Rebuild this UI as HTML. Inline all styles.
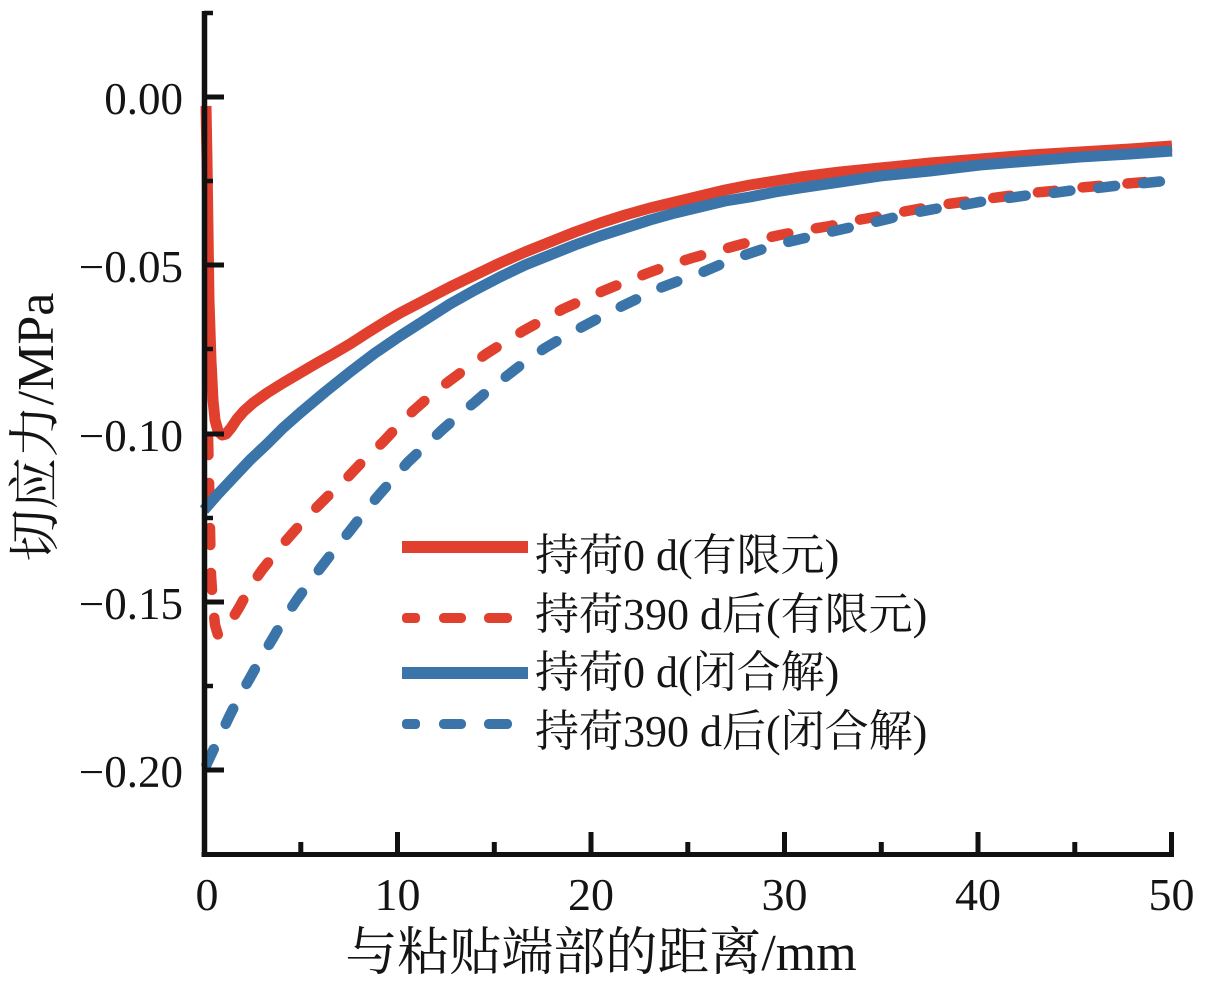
<!DOCTYPE html>
<html>
<head>
<meta charset="utf-8">
<style>
html,body{margin:0;padding:0;background:#fff;}
svg{display:block;}
text{font-family:"Liberation Serif","Noto Serif CJK SC",serif;fill:#141414;}
</style>
</head>
<body>
<svg width="1210" height="992" viewBox="0 0 1210 992" xmlns="http://www.w3.org/2000/svg">
<rect width="1210" height="992" fill="#fff"/>

<!-- series -->
<g fill="none" stroke-linejoin="round">
  <!-- red solid: 0 d FE -->
  <polyline stroke="#E0402D" stroke-width="11" stroke-linecap="butt" points="206,106 207,160 208,230 209,300 211,360 213,400 215,420 218,431 222,435 226,434 231,428 237,419 244,411 253,403 267,393 283,383 300,373 317,363 333,354 350,344 367,333 383,323 400,313 425,300 450,287 475,275 500,263 525,252 550,242 575,232 600,223 625,215 650,208 675,202 700,196 725,190 750,185 775,181 800,177 840,172 880,168 930,163 980,159 1030,155 1080,152 1130,149 1172,146"/>
  <!-- red dashed: 390 d FE -->
  <polyline stroke="#E0402D" stroke-width="10.5" stroke-linecap="round" stroke-dasharray="17 28" stroke-dashoffset="-4" points="208,434 209,480 210,530 211,575 213,605 215,625 218,635 222,634 228,626 234,616 240,606 247,593 255,580 262,570 270,560 283,544 298,527 314,510 330,494 346,479 364,460 383,442 398,426 413,411 430,396 448,382 467,368 486,354 505,342 523,331 543,320 563,309 583,300 603,291 625,282 648,273 670,265 692,258 713,252 735,246 757,240 780,235 805,230 830,226 852,221 875,217 896,213 918,209 940,205 963,202 985,199 1008,196 1030,193 1053,191 1075,188 1098,186 1122,184 1145,182 1162,181"/>
  <!-- blue solid: 0 d closed form -->
  <polyline stroke="#3A74A8" stroke-width="11" stroke-linecap="butt" points="204,510 218,494 233,478 250,460 267,444 283,428 300,413 325,392 350,372 375,353 400,336 425,320 450,304 475,290 500,277 525,265 550,255 575,245 600,236 625,228 650,220 675,213 700,207 725,201 750,197 775,192 800,188 840,182 880,176 930,171 980,165 1030,161 1080,157 1130,154 1172,151"/>
  <!-- blue dashed: 390 d closed form -->
  <polyline stroke="#3A74A8" stroke-width="10.5" stroke-linecap="round" stroke-dasharray="17 28" stroke-dashoffset="-6" points="204,770 211,755 220,736 229,717 239,697 250,678 261,658 273,638 284,619 296,601 309,583 322,566 335,549 349,532 363,514 378,496 393,479 408,462 425,446 442,430 458,416 475,402 491,388 508,375 526,361 545,348 562,338 580,328 599,318 618,308 639,298 660,288 681,280 703,272 724,263 745,255 766,248 788,242 809,237 830,232 852,227 875,222 896,217 918,212 940,208 963,205 985,201 1008,198 1030,195 1053,193 1075,190 1098,188 1122,185 1145,183 1165,181"/>
</g>

<!-- axes -->
<g stroke="#111" fill="none">
  <line x1="204.5" y1="11" x2="204.5" y2="857" stroke-width="5.5"/>
  <line x1="201.5" y1="854.5" x2="1174" y2="854.5" stroke-width="5"/>
  <!-- y major ticks -->
  <g stroke-width="5">
    <line x1="204" y1="97" x2="224" y2="97"/>
    <line x1="204" y1="265" x2="224" y2="265"/>
    <line x1="204" y1="434" x2="224" y2="434"/>
    <line x1="204" y1="602" x2="224" y2="602"/>
    <line x1="204" y1="770" x2="224" y2="770"/>
  </g>
  <!-- y minor ticks -->
  <g stroke-width="4.5">
    <line x1="204" y1="13" x2="213" y2="13"/>
    <line x1="204" y1="181" x2="213" y2="181"/>
    <line x1="204" y1="349" x2="213" y2="349"/>
    <line x1="204" y1="518" x2="213" y2="518"/>
    <line x1="204" y1="686" x2="213" y2="686"/>
  </g>
  <!-- x major ticks -->
  <g stroke-width="5">
    <line x1="397.5" y1="855" x2="397.5" y2="832"/>
    <line x1="591" y1="855" x2="591" y2="832"/>
    <line x1="784.5" y1="855" x2="784.5" y2="832"/>
    <line x1="978" y1="855" x2="978" y2="832"/>
    <line x1="1171.5" y1="855" x2="1171.5" y2="832"/>
  </g>
  <!-- x minor ticks -->
  <g stroke-width="5">
    <line x1="300.8" y1="855" x2="300.8" y2="842"/>
    <line x1="494.3" y1="855" x2="494.3" y2="842"/>
    <line x1="687.8" y1="855" x2="687.8" y2="842"/>
    <line x1="881.3" y1="855" x2="881.3" y2="842"/>
    <line x1="1074.8" y1="855" x2="1074.8" y2="842"/>
  </g>
</g>

<!-- y tick labels -->
<g font-size="45" text-anchor="end">
  <text x="183" y="114">0.00</text>
  <text x="183" y="282">−0.05</text>
  <text x="183" y="451">−0.10</text>
  <text x="183" y="619">−0.15</text>
  <text x="183" y="787">−0.20</text>
</g>

<!-- x tick labels -->
<g font-size="46" text-anchor="middle">
  <text x="207" y="910">0</text>
  <text x="397.5" y="910">10</text>
  <text x="591" y="910">20</text>
  <text x="784.5" y="910">30</text>
  <text x="978" y="910">40</text>
  <text x="1171.5" y="910">50</text>
</g>

<!-- axis titles -->
<text x="601" y="970" font-size="52" text-anchor="middle">与粘贴端部的距离/mm</text>
<text transform="translate(53,427) rotate(-90)" font-size="52" text-anchor="middle">切应力/MPa</text>

<!-- legend -->
<rect x="402" y="541" width="126" height="12" fill="#E0402D"/>
<g fill="#E0402D">
  <rect x="402" y="613" width="18" height="10" rx="4"/>
  <rect x="439" y="613" width="27" height="10" rx="4.5"/>
  <rect x="484" y="613" width="28" height="10" rx="4.5"/>
</g>
<rect x="402" y="667" width="126" height="12" fill="#3A74A8"/>
<g fill="#3A74A8">
  <rect x="402" y="719" width="18" height="10" rx="4"/>
  <rect x="439" y="719" width="27" height="10" rx="4.5"/>
  <rect x="484" y="719" width="28" height="10" rx="4.5"/>
</g>
<g font-size="44">
  <text x="535" y="570">持荷0 d(有限元)</text>
  <text x="535" y="629">持荷390 d后(有限元)</text>
  <text x="535" y="687">持荷0 d(闭合解)</text>
  <text x="535" y="746">持荷390 d后(闭合解)</text>
</g>
</svg>
</body>
</html>
